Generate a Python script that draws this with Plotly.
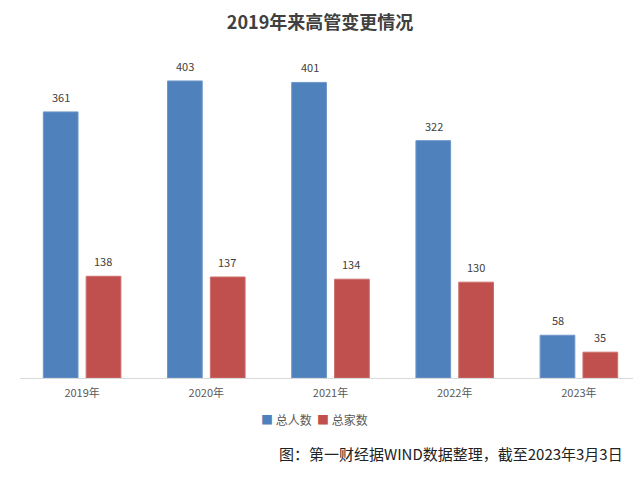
import plotly.graph_objects as go

categories = ["2019年", "2020年", "2021年", "2022年", "2023年"]
total_people = [361, 403, 401, 322, 58]
total_companies = [138, 137, 134, 130, 35]
series_names = ["总人数", "总家数"]
title_text = "2019年来高管变更情况"
source_text = "图：第一财经据WIND数据整理，截至2023年3月3日"

BLUE = "#4F81BD"
RED = "#C0504D"
FONT = "Noto Sans CJK SC"

fig = go.Figure()
fig.add_trace(go.Bar(x=categories, y=total_people, name=series_names[0],
                     marker=dict(color=BLUE, line=dict(color="#6E96C8", width=1))))
fig.add_trace(go.Bar(x=categories, y=total_companies, name=series_names[1],
                     marker=dict(color=RED, line=dict(color="#CC6E6B", width=1))))

offset = 0.169
for i, c in enumerate(categories):
    for val, dx in ((total_people[i], -offset), (total_companies[i], offset)):
        fig.add_annotation(x=i + dx, y=val, text=str(val), showarrow=False,
                           yshift=15, xref="x", yref="y",
                           font=dict(family=FONT, size=11, color="#404040"))

# compact legend (square + label), as in the reference
legend_html = (f'<span style="color:{BLUE}">■</span> {series_names[0]}  '
               f'<span style="color:{RED}">■</span> {series_names[1]}')
fig.add_annotation(text=legend_html, xref="paper", yref="paper",
                   x=0.475, y=-0.128, xanchor="center", yanchor="middle",
                   showarrow=False,
                   font=dict(family=FONT, size=12, color="#595959"))

fig.add_annotation(text=source_text, xref="paper", yref="paper",
                   x=0.975, y=-0.229, xanchor="right", yanchor="middle",
                   showarrow=False,
                   font=dict(family=FONT, size=15, color="#222222"))

# the page body has an 8px default margin, so the figure is sized/shifted for it
fig.update_layout(
    width=633, height=469,
    margin=dict(l=12, r=0, t=42, b=99, autoexpand=False),
    paper_bgcolor="white", plot_bgcolor="white",
    title=dict(text="<b>" + title_text + "</b>", x=0.493, xanchor="center",
               y=1 - 15 / 469, yanchor="middle",
               font=dict(family=FONT, size=18, color="#404040")),
    barmode="group", bargap=0.31, bargroupgap=0.19,
    showlegend=False,
    xaxis=dict(range=[-0.5, 4.5], showline=True, linecolor="#D9D9D9", linewidth=1,
               ticks="", ticklabelstandoff=5,
               tickfont=dict(family=FONT, size=11, color="#595959"),
               showgrid=False, automargin=False),
    yaxis=dict(range=[0, 445], visible=False, showgrid=False, zeroline=False,
               automargin=False),
)

fig.write_html("out.html")
